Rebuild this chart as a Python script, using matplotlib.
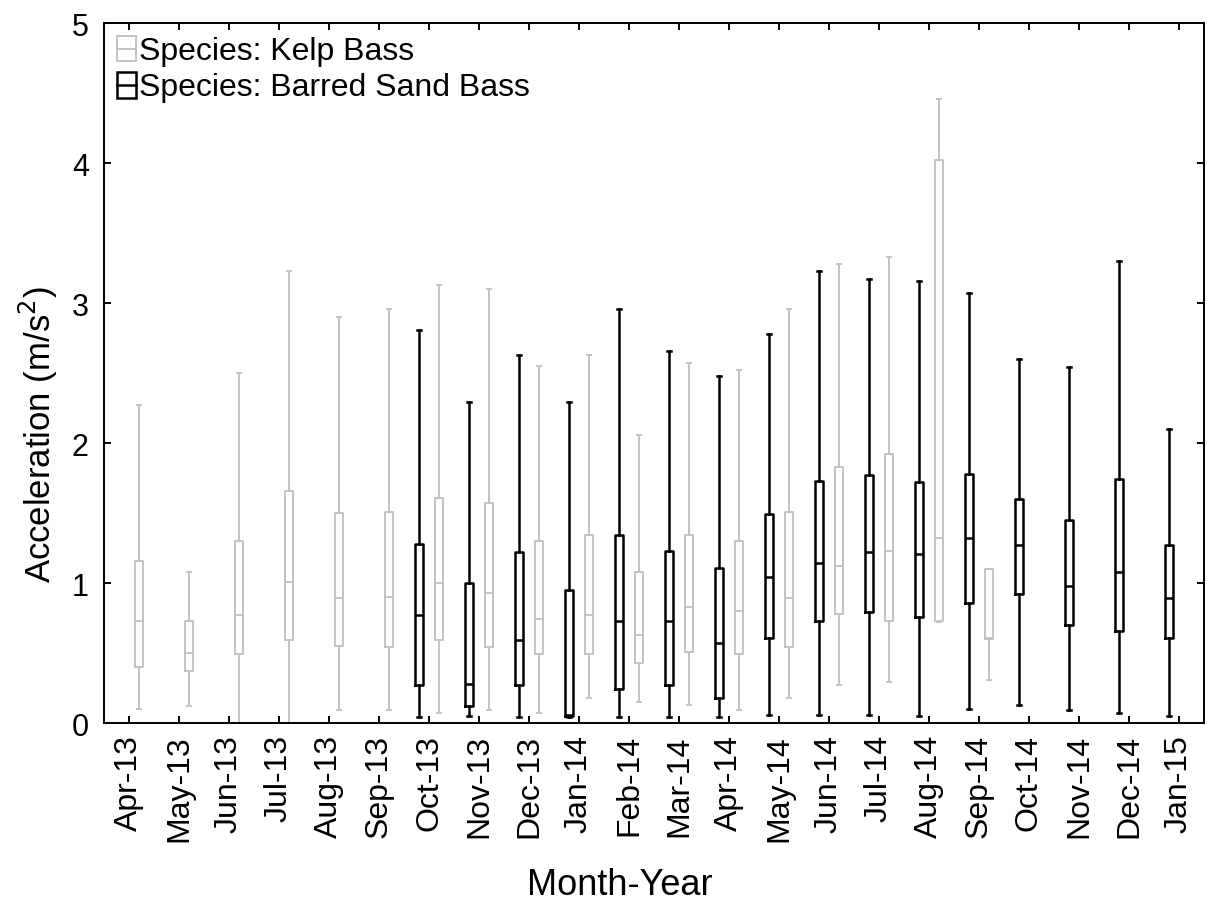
import matplotlib
matplotlib.use("Agg")
import matplotlib.pyplot as plt
from matplotlib.legend_handler import HandlerBase
from matplotlib.patches import Rectangle
from matplotlib.lines import Line2D

plt.rcParams['font.family'] = ['Liberation Sans', 'DejaVu Sans']

months = ["Apr-13", "May-13", "Jun-13", "Jul-13", "Aug-13", "Sep-13", "Oct-13",
          "Nov-13", "Dec-13", "Jan-14", "Feb-14", "Mar-14", "Apr-14", "May-14",
          "Jun-14", "Jul-14", "Aug-14", "Sep-14", "Oct-14", "Nov-14", "Dec-14",
          "Jan-15"]

# Kelp Bass: Apr-13 .. Sep-14
kelp_months = months[0:18]
kelp_low = [0.10, 0.12, 0.00, 0.00, 0.09, 0.09, 0.07, 0.09, 0.07, 0.18, 0.15,
            0.13, 0.09, 0.18, 0.27, 0.29, 0.72, 0.31]
kelp_q1 = [0.40, 0.37, 0.49, 0.59, 0.55, 0.54, 0.59, 0.54, 0.49, 0.49, 0.43,
           0.51, 0.49, 0.54, 0.78, 0.73, 0.73, 0.60]
kelp_med = [0.73, 0.50, 0.77, 1.01, 0.89, 0.90, 1.00, 0.93, 0.74, 0.77, 0.63,
            0.83, 0.80, 0.89, 1.12, 1.23, 1.32, 0.61]
kelp_q3 = [1.16, 0.73, 1.30, 1.66, 1.50, 1.51, 1.61, 1.57, 1.30, 1.34, 1.08,
           1.34, 1.30, 1.51, 1.83, 1.92, 4.02, 1.10]
kelp_high = [2.27, 1.08, 2.50, 3.23, 2.90, 2.96, 3.13, 3.10, 2.55, 2.63, 2.06,
             2.57, 2.52, 2.96, 3.28, 3.33, 4.46, 1.10]

# Barred Sand Bass: Oct-13 .. Jan-15
bsb_months = months[6:22]
bsb_low = [0.04, 0.05, 0.04, 0.04, 0.04, 0.04, 0.04, 0.06, 0.06, 0.06, 0.05,
           0.10, 0.13, 0.09, 0.07, 0.05]
bsb_q1 = [0.27, 0.12, 0.27, 0.05, 0.24, 0.27, 0.18, 0.61, 0.73, 0.79, 0.76,
          0.86, 0.92, 0.70, 0.66, 0.61]
bsb_med = [0.77, 0.28, 0.59, 0.06, 0.73, 0.73, 0.57, 1.04, 1.14, 1.22, 1.21,
           1.32, 1.27, 0.98, 1.08, 0.89]
bsb_q3 = [1.28, 1.00, 1.22, 0.95, 1.34, 1.23, 1.11, 1.49, 1.73, 1.77, 1.72,
          1.78, 1.60, 1.45, 1.74, 1.27]
bsb_high = [2.81, 2.29, 2.63, 2.29, 2.96, 2.66, 2.48, 2.78, 3.23, 3.17, 3.16,
            3.07, 2.60, 2.54, 3.30, 2.10]

KELP_COLOR = "#c4c4c4"
BSB_COLOR = "#000000"
OFFSET = 0.2
BOX_W = 0.17


def make_stats(lows, q1s, meds, q3s, highs):
    return [dict(whislo=lo, q1=a, med=m, q3=b, whishi=hi, fliers=[])
            for lo, a, m, b, hi in zip(lows, q1s, meds, q3s, highs)]


def draw(ax, stats, xpos, color, lw):
    ax.bxp(stats, positions=xpos, widths=BOX_W, showfliers=False,
           capwidths=0.07, manage_ticks=False,
           boxprops=dict(color=color, linewidth=lw),
           medianprops=dict(color=color, linewidth=lw),
           whiskerprops=dict(color=color, linewidth=lw),
           capprops=dict(color=color, linewidth=lw))


fig = plt.figure(figsize=(12.07, 9.03), dpi=100)
ax = fig.add_axes([0.0862, 0.1982, 0.9113, 0.7752])

kelp_x = [months.index(m) + OFFSET for m in kelp_months]
bsb_x = [months.index(m) - OFFSET for m in bsb_months]

draw(ax, make_stats(kelp_low, kelp_q1, kelp_med, kelp_q3, kelp_high),
     kelp_x, KELP_COLOR, 1.4)
draw(ax, make_stats(bsb_low, bsb_q1, bsb_med, bsb_q3, bsb_high),
     bsb_x, BSB_COLOR, 1.8)

ax.set_xlim(-0.5, len(months) - 0.5)
ax.set_ylim(0, 5)
ax.set_xticks(range(len(months)))
ax.set_xticklabels(months, rotation=90, fontsize=23)
ax.set_yticks([0, 1, 2, 3, 4, 5])
ax.set_yticklabels(["0", "1", "2", "3", "4", "5"], fontsize=22)
ax.tick_params(direction="in", top=True, right=True, length=5, width=1.4)
ax.tick_params(axis="y", pad=11)
ax.tick_params(axis="x", pad=8)
for s in ax.spines.values():
    s.set_linewidth(1.4)

ax.set_xlabel("Month-Year", fontsize=26)
ax.xaxis.set_label_coords(0.469, -0.205)
ax.set_ylabel("Acceleration (m/s$^2$)", fontsize=25)
ax.yaxis.set_label_coords(-0.040, 0.413)


class BoxHandler(HandlerBase):
    def __init__(self, color, lw):
        super().__init__()
        self.color = color
        self.lw = lw

    def create_artists(self, legend, orig_handle, xdescent, ydescent,
                       width, height, fontsize, trans):
        w = width
        x0 = -xdescent
        y0 = -ydescent - height * 0.12
        h = height * 1.15
        rect = Rectangle((x0, y0), w, h, facecolor="none",
                         edgecolor=self.color, linewidth=self.lw,
                         transform=trans)
        line = Line2D([x0, x0 + w], [y0 + h / 2, y0 + h / 2],
                      color=self.color, linewidth=self.lw, transform=trans)
        return [rect, line]


h_kelp = Rectangle((0, 0), 1, 1)
h_bsb = Rectangle((0, 0), 1, 1)
ax.legend([h_kelp, h_bsb],
          ["Species: Kelp Bass", "Species: Barred Sand Bass"],
          handler_map={h_kelp: BoxHandler(KELP_COLOR, 1.4),
                       h_bsb: BoxHandler(BSB_COLOR, 1.8)},
          loc="upper left", frameon=False, fontsize=23,
          handlelength=0.6, handletextpad=0.1, labelspacing=0.2,
          borderaxespad=0.1, borderpad=0.3)

fig.savefig("out.png", dpi=100)
